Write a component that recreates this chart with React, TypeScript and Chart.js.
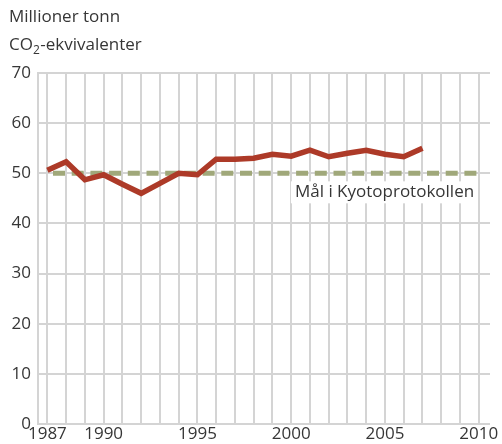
import React, { useEffect, useRef } from "react";
import { Chart, registerables } from "chart.js";

Chart.register(...registerables);

const years = [1987, 1988, 1989, 1990, 1991, 1992, 1993, 1994, 1995, 1996, 1997, 1998, 1999, 2000, 2001, 2002, 2003, 2004, 2005, 2006, 2007];
const emissions = [50.6, 52.3, 48.7, 49.7, 47.8, 46.0, 48.0, 50.0, 49.7, 52.8, 52.8, 53.0, 53.8, 53.4, 54.6, 53.3, 54.0, 54.6, 53.8, 53.3, 55.0];
const targetYears = [1987.3, 2010];
const targetValues = [50, 50];
const xLabelYears = [1987, 1990, 1995, 2000, 2005, 2010];
const gridYears = [1987, 1988, 1989, 1990, 1991, 1992, 1993, 1994, 1995, 1996, 1997, 1998, 1999, 2000, 2001, 2002, 2003, 2004, 2005, 2006, 2007, 2008, 2009, 2010];
const titleLine1 = "Millioner tonn";
const titleCO = "CO";
const titleSub = "2";
const titleRest = "-ekvivalenter";
const targetLabel = "Mål i Kyotoprotokollen";

const FONT = "'Open Sans', sans-serif";
const TEXT = "#363636";
const GRID = "#d4d4d4";

export default function App() {
  const ref = useRef<HTMLCanvasElement | null>(null);
  useEffect(() => {
    document.body.style.margin = "0";
    const canvas = ref.current;
    if (!canvas) return;
    const annot = {
      id: "annot",
      afterDraw(chart: any) {
        const ctx = chart.ctx;
        ctx.save();
        ctx.fillStyle = TEXT;
        ctx.textBaseline = "middle";
        ctx.textAlign = "left";
        ctx.font = `17px ${FONT}`;
        ctx.fillText(titleLine1, 9, 17);
        ctx.fillText(titleCO, 9, 45);
        const w1 = ctx.measureText(titleCO).width;
        ctx.font = `12px ${FONT}`;
        ctx.fillText(titleSub, 9 + w1, 51);
        const w2 = ctx.measureText(titleSub).width;
        ctx.font = `17px ${FONT}`;
        ctx.fillText(titleRest, 9 + w1 + w2 + 0.5, 45);
        // target label
        const xs = chart.scales.x;
        const ys = chart.scales.y;
        const tx = xs.getPixelForValue(2000.2);
        const ty = ys.getPixelForValue(46.2);
        const tw = ctx.measureText(targetLabel).width;
        ctx.fillStyle = "#ffffff";
        ctx.fillRect(tx - 4, ty - 11, tw + 6, 22);
        ctx.fillStyle = TEXT;
        ctx.fillText(targetLabel, tx, ty);
        ctx.restore();
      },
    };
    const chart = new Chart(canvas, {
      type: "line",
      data: {
        datasets: [
          {
            data: years.map((y, i) => ({ x: y, y: emissions[i] })),
            borderColor: "#ad3a28",
            borderWidth: 5.5,
            pointRadius: 0,
            tension: 0,
            fill: false,
            order: 0,
          },
          {
            data: targetYears.map((y, i) => ({ x: y, y: targetValues[i] })),
            borderColor: "#a0a87a",
            borderWidth: 5,
            borderDash: [12, 6.7],
            pointRadius: 0,
            fill: false,
            order: 1,
          },
        ],
      },
      options: {
        responsive: false,
        animation: false,
        events: [],
        layout: { padding: { top: 73, right: 12, left: 0, bottom: 0 } },
        plugins: { legend: { display: false }, tooltip: { enabled: false }, title: { display: false } },
        scales: {
          x: {
            type: "linear",
            min: 1986.5,
            max: 2010.6,
            afterBuildTicks: (s: any) => {
              s.ticks = gridYears.map((v) => ({ value: v }));
            },
            afterFit: (s: any) => {
              s.height = 20;
            },
            ticks: {
              autoSkip: false,
              maxRotation: 0,
              padding: 0,
              color: TEXT,
              font: { family: FONT, size: 17 },
              callback: (v: any) => (xLabelYears.includes(Number(v)) ? String(v) : ""),
            },
            grid: { color: GRID, lineWidth: 2, drawTicks: false },
            border: { display: false },
          },
          y: {
            min: 0,
            max: 70,
            afterFit: (s: any) => {
              s.width = 38;
            },
            ticks: {
              stepSize: 10,
              padding: 7,
              color: TEXT,
              font: { family: FONT, size: 17 },
            },
            grid: { color: GRID, lineWidth: 2, drawTicks: false },
            border: { display: true, color: GRID, width: 2 },
          },
        },
      },
      plugins: [annot],
    });
    return () => chart.destroy();
  }, []);
  return <canvas ref={ref} width={502} height={444} style={{ display: "block" }} />;
}
